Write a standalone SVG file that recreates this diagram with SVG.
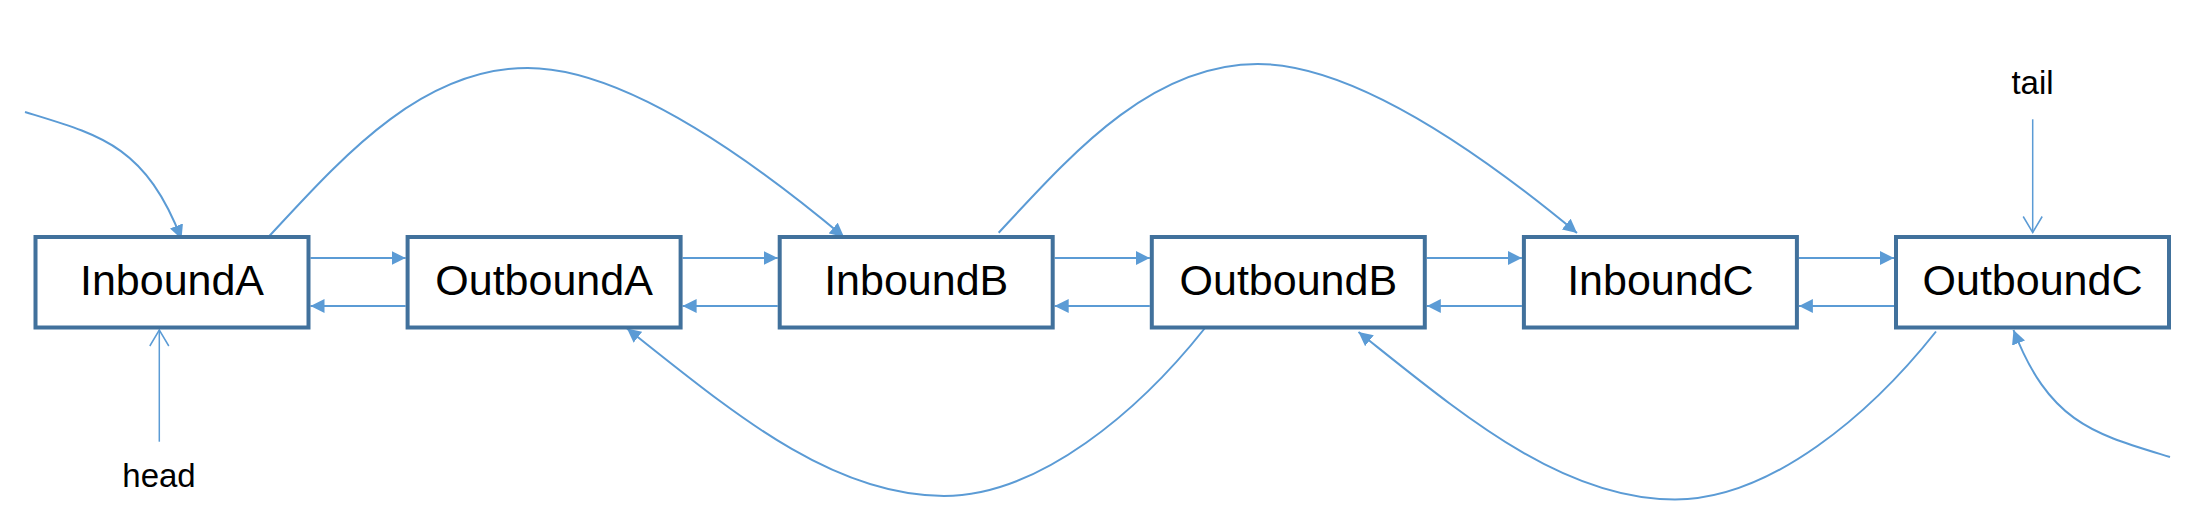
<svg xmlns="http://www.w3.org/2000/svg" width="2204" height="516" viewBox="0 0 2204 516">
<style>
.box{fill:#ffffff;stroke:#41719C;stroke-width:4}
.lbl{font-family:"Liberation Sans",Arial,Helvetica,sans-serif;font-size:43px;fill:#000000;text-anchor:middle}
.small{font-family:"Liberation Sans",Arial,Helvetica,sans-serif;font-size:33px;fill:#000000;text-anchor:middle}
.c{fill:none;stroke:#5B9BD5;stroke-width:2}
.arr{marker-end:url(#fill)}
.thin{fill:none;stroke:#5B9BD5;stroke-width:1.5;marker-end:url(#open)}
</style>
<defs>
<marker id="fill" markerUnits="userSpaceOnUse" markerWidth="14" markerHeight="14" viewBox="0 0 14 14" refX="14" refY="7" orient="auto">
<path d="M0,0 L14,7 L0,14 z" fill="#5B9BD5"/>
</marker>
<marker id="open" markerUnits="userSpaceOnUse" markerWidth="20" markerHeight="22" viewBox="-1 -1 20 22" refX="16" refY="9.5" orient="auto">
<path d="M0,0 L16,9.5 L0,19" fill="none" stroke="#5B9BD5" stroke-width="1.5"/>
</marker>
</defs>
<rect width="2204" height="516" fill="#ffffff"/>
<g id="connectors">
<path class="c arr" d="M310.5,258 H405.6"/>
<path class="c arr" d="M405.6,306 H310.5"/>
<path class="c arr" d="M682.6,258 H777.7"/>
<path class="c arr" d="M777.7,306 H682.6"/>
<path class="c arr" d="M1054.7,258 H1149.8"/>
<path class="c arr" d="M1149.8,306 H1054.7"/>
<path class="c arr" d="M1426.8,258 H1521.9"/>
<path class="c arr" d="M1521.9,306 H1426.8"/>
<path class="c arr" d="M1798.9,258 H1894"/>
<path class="c arr" d="M1894,306 H1798.9"/>
<path class="c arr" d="M25,112 C100,135 145,145 181.5,239"/>
<path class="c arr" d="M268.7,236.7 C340,160 420,68 527.7,68 C620,68 740,150 844,237"/>
<path class="c arr" d="M998.7,232.7 C1070,156 1150,64 1257.7,64 C1350,64 1472,146 1577,233"/>
<path class="c arr" d="M1205,328 C1140,410 1040,496 944,496 C830,496 730,410 627,328.5"/>
<path class="c arr" d="M1936,331.5 C1871,413.5 1771,499.5 1675,499.5 C1561,499.5 1461,413.5 1358.5,332"/>
<path class="c arr" d="M2170,457 C2095,434 2050,424 2013.5,330"/>
<path class="thin" d="M159.3,441.7 V330"/>
<path class="thin" d="M2032.7,119.3 V232.5"/>
</g>
<g id="InboundA"><rect class="box" x="35.5" y="237" width="273" height="90.5"/><text class="lbl" x="172" y="294.5">InboundA</text></g>
<g id="OutboundA"><rect class="box" x="407.6" y="237" width="273" height="90.5"/><text class="lbl" x="544.1" y="294.5">OutboundA</text></g>
<g id="InboundB"><rect class="box" x="779.7" y="237" width="273" height="90.5"/><text class="lbl" x="916.2" y="294.5">InboundB</text></g>
<g id="OutboundB"><rect class="box" x="1151.8" y="237" width="273" height="90.5"/><text class="lbl" x="1288.3" y="294.5">OutboundB</text></g>
<g id="InboundC"><rect class="box" x="1523.9" y="237" width="273" height="90.5"/><text class="lbl" x="1660.4" y="294.5">InboundC</text></g>
<g id="OutboundC"><rect class="box" x="1896" y="237" width="273" height="90.5"/><text class="lbl" x="2032.5" y="294.5">OutboundC</text></g>
<g id="head"><text class="small" x="159" y="486.5">head</text></g>
<g id="tail"><text class="small" x="2032.5" y="94">tail</text></g>
</svg>
